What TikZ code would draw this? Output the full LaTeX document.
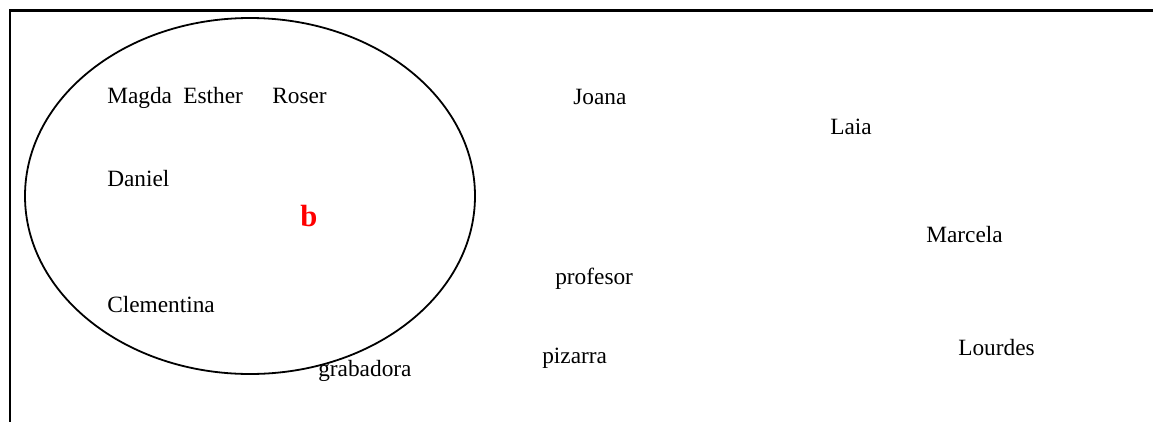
\documentclass[tikz,border=0pt]{standalone}
\usepackage{fontspec}
\setmainfont{Liberation Serif}
\usetikzlibrary{shapes.geometric}
\begin{document}
\begin{tikzpicture}[x=0.75pt,y=-0.75pt,
  lbl/.style={anchor=base west,inner sep=0pt,font=\fontsize{17.5}{20}\selectfont},
  frame/.style={line width=1.6pt},
  setline/.style={line width=1.35pt}]
\useasboundingbox (0,0) rectangle (1153,422);
\coordinate (tl) at (10,10.5);
\coordinate (tr) at (1153,10.5);
\coordinate (bl) at (10,422);
\draw[frame] (tr) -- (tl) -- (bl);
\node[draw,setline,ellipse,minimum width=337.5pt,minimum height=267pt,inner sep=0pt] (set) at (250,196) {};
\node[lbl] (magda) at (107,103) {Magda};
\node[lbl] (esther) at (183,103) {Esther};
\node[lbl] (roser) at (272,103) {Roser};
\node[lbl] (joana) at (573,104) {Joana};
\node[lbl] (laia) at (830,134) {Laia};
\node[lbl] (daniel) at (107,186) {Daniel};
\node[anchor=base west,inner sep=0pt,text=red,font=\fontsize{23}{26}\selectfont\bfseries] (b) at (300,226) {b};
\node[lbl] (marcela) at (926,242) {Marcela};
\node[lbl] (profesor) at (555,284) {profesor};
\node[lbl] (clementina) at (107,312) {Clementina};
\node[lbl] (pizarra) at (542,363) {pizarra};
\node[lbl] (grabadora) at (318,376) {grabadora};
\node[lbl] (lourdes) at (958,355) {Lourdes};
\end{tikzpicture}
\end{document}
